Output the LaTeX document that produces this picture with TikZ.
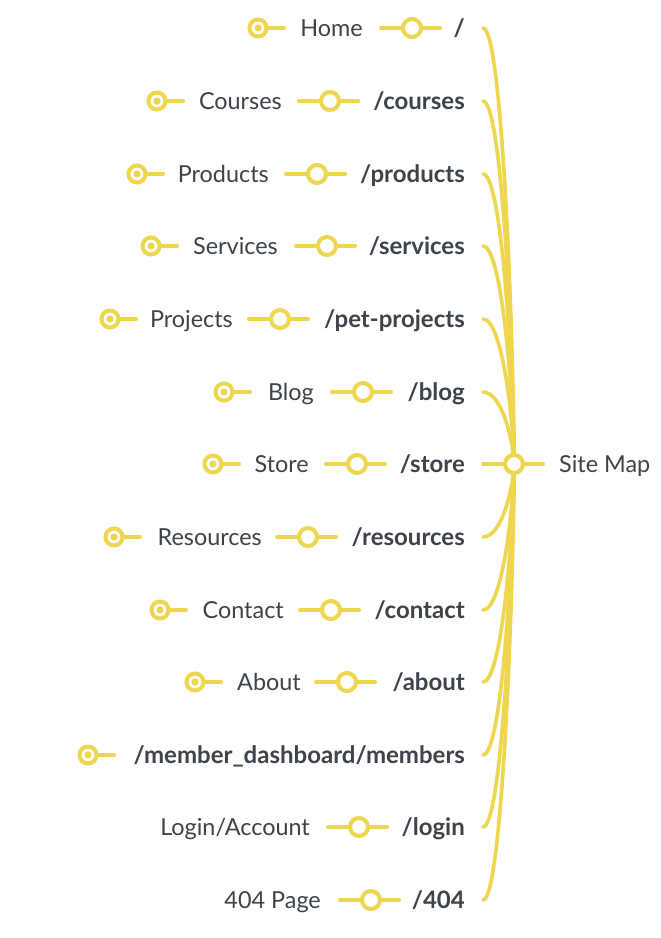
\documentclass[tikz,border=0pt]{standalone}
\usepackage{fontspec}
\setmainfont{Lato}
\definecolor{ylw}{HTML}{EED64F}
\definecolor{txt}{HTML}{3D434A}
\tikzset{
  ln/.style={draw=ylw, line width=4pt, line cap=round},
  br/.style={draw=ylw, line width=3.6pt, line cap=round},
  leafc/.style={circle, draw=ylw, line width=4pt, fill=white, minimum size=17pt, inner sep=0pt},
  midc/.style={circle, draw=ylw, line width=4pt, fill=white, minimum size=18pt, inner sep=0pt},
  pg/.style={anchor=base east, text=txt, font=\fontsize{23.4}{28}\selectfont, inner sep=0pt},
  rt/.style={anchor=base east, text=txt, font=\fontsize{24}{28}\selectfont\bfseries, inner sep=0pt},
}
\newcommand{\smroute}[3]{%
  \node[rt] (r#1) at (465,#2+8) {#3};
  \coordinate (b#1) at (483,#2);
  \draw[br] (b#1) .. controls (503,#2) and ({514},{#2+0.75*(464-#2)}) .. (sm);
}
\newcommand{\smpage}[5]{%
  \node[midc] (c#1) at (#3,#2) {};
  \coordinate (cs#1) at (#3-31,#2);
  \coordinate (ce#1) at (#3+28,#2);
  \draw[ln] (cs#1) -- (c#1);
  \draw[ln] (c#1) -- (ce#1);
  \node[pg] (p#1) at (#4,#2+8) {#5};
}
\newcommand{\smleaf}[3]{%
  \node[leafc] (l#1) at (#3,#2) {};
  \fill[ylw] (l#1.center) circle (3.6);
  \coordinate (le#1) at (#3+26,#2);
  \draw[ln] (l#1) -- (le#1);
}
\begin{document}
\begin{tikzpicture}[x=1pt,y=-1pt]
\useasboundingbox (0,0) rectangle (661,938);
\fill[white] (0,0) rectangle (661,938);
\coordinate (sm) at (514,464);

\smroute{a}{28}{/}
\smroute{b}{101}{/courses}
\smroute{c}{174}{/products}
\smroute{d}{246}{/services}
\smroute{e}{319}{/pet-projects}
\smroute{f}{392}{/blog}
\smroute{g}{464}{/store}
\smroute{h}{537}{/resources}
\smroute{i}{610}{/contact}
\smroute{j}{682}{/about}
\smroute{k}{755}{/member\_dashboard/members}
\smroute{l}{827}{/login}
\smroute{m}{900}{/404}

\smpage{a}{28}{412}{363}{Home}
\smpage{b}{101}{330}{282}{Courses}
\smpage{c}{174}{317}{269}{Products}
\smpage{d}{246}{327}{278}{Services}
\smpage{e}{319}{280}{233}{Projects}
\smpage{f}{392}{363}{314}{Blog}
\smpage{g}{464}{357}{309}{Store}
\smpage{h}{537}{308}{262}{Resources}
\smpage{i}{610}{331}{284}{Contact}
\smpage{j}{682}{347}{301}{About}
\smpage{l}{827}{359}{310}{Login/Account}
\smpage{m}{900}{371}{321}{404 Page}

\smleaf{a}{28}{258}
\smleaf{b}{101}{157}
\smleaf{c}{174}{137}
\smleaf{d}{246}{151}
\smleaf{e}{319}{110}
\smleaf{f}{392}{224}
\smleaf{g}{464}{213}
\smleaf{h}{537}{114}
\smleaf{i}{610}{160}
\smleaf{j}{682}{195}
\smleaf{k}{755}{88}

\node[midc] (root) at (sm) {};
\coordinate (rootend) at (543,464);
\draw[ln] (root) -- (rootend);
\node[anchor=base west, text=txt, font=\fontsize{23.4}{28}\selectfont, inner sep=0pt] (sitemap) at (559,472) {Site Map};
\end{tikzpicture}
\end{document}
